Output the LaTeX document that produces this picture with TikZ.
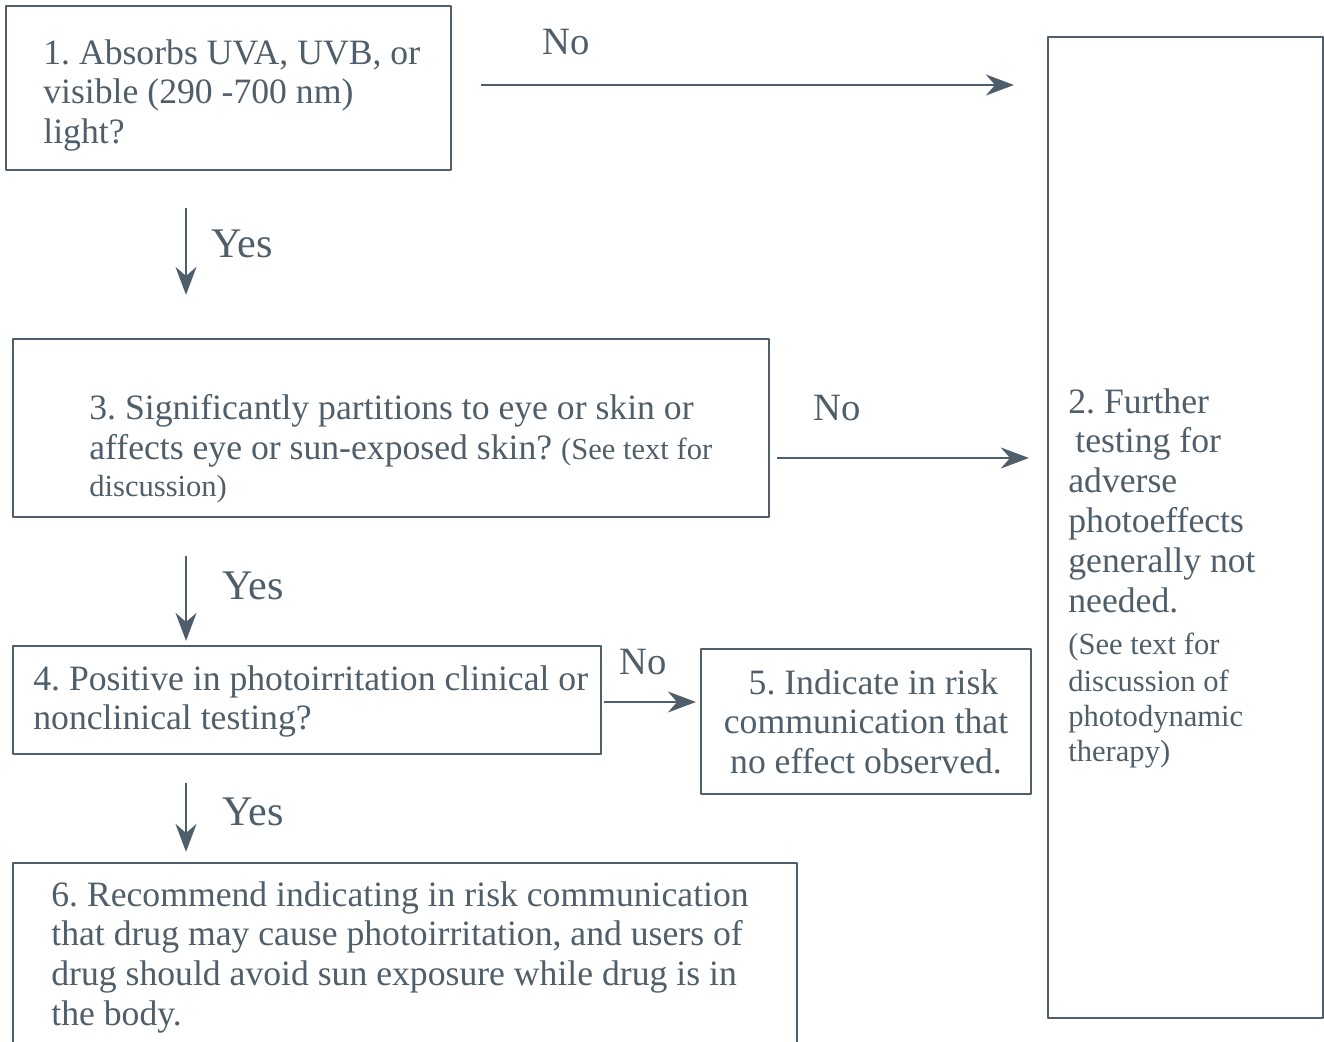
\documentclass[tikz,border=0pt]{standalone}
\usepackage{fontspec}
\setmainfont{Liberation Serif}
\usetikzlibrary{arrows.meta}
\frenchspacing
\definecolor{ink}{HTML}{4E5E6A}
\newcommand\bodytxt{\fontsize{20.3pt}{22.7pt}\selectfont}
\newcommand\smalltxt{\fontsize{17.4pt}{19.8pt}\selectfont}
\newcommand\notxt{\fontsize{22pt}{26pt}\selectfont}
\newcommand\yestxt{\fontsize{24pt}{28pt}\selectfont}
\begin{document}
\begin{tikzpicture}[x=0.02cm, y=-0.02cm, line join=round,
    >={Stealth[length=0.56cm,width=0.42cm]},
    frame/.style={draw=ink, line width=1.3pt, inner sep=0pt},
    txt/.style={text=ink, inner sep=0pt, align=left, font=\bodytxt},
    arr/.style={->, draw=ink, line width=1.3pt},
    lab/.style={text=ink, inner sep=0pt}]
  \useasboundingbox (0,0) rectangle (1324,1041);
  % boxes
  \node[frame, minimum width=8.9cm, minimum height=3.28cm] (q1) at (228.5,88) {};
  \node[frame, minimum width=5.5cm, minimum height=19.62cm] (r2) at (1185.5,527.5) {};
  \node[frame, minimum width=15.12cm, minimum height=3.56cm] (q3) at (391,428) {};
  \node[frame, minimum width=11.76cm, minimum height=2.16cm] (q4) at (307,700) {};
  \node[frame, minimum width=6.6cm, minimum height=2.9cm] (r5) at (866,721.5) {};
  \node[frame, minimum width=15.68cm, minimum height=3.7cm] (r6) at (405,955.5) {};
  % box texts
  \node[txt, anchor=north west] (t1) at (43,39)
    {1. Absorbs UVA, UVB, or\\ visible (290 -700 nm)\\ light?};
  \node[txt, anchor=north west] (t2) at (1068,388)
    {2. Further\\ \hspace*{0.14cm}testing for\\ adverse\\ photoeffects\\ generally not\\ needed.\\[0.04cm]
     \smalltxt (See text for\\[-0.06cm] \smalltxt discussion of\\[-0.1cm] \smalltxt photodynamic\\[-0.1cm] \smalltxt therapy)};
  \node[txt, anchor=north west] (t3) at (89,394)
    {3. Significantly partitions to eye or skin or\\ affects eye or sun-exposed skin? {\smalltxt (See text for}\\[-0.06cm] \smalltxt discussion)};
  \node[txt, anchor=north west] (t4) at (33,665)
    {4. Positive in photoirritation clinical or\\ nonclinical testing?};
  \node[txt, align=center, anchor=north] (t5) at (866,669)
    {\hspace*{0.3cm}5. Indicate in risk\\ communication that\\ no effect observed.};
  \node[txt, anchor=north west] (t6) at (51,881)
    {6. Recommend indicating in risk communication\\ that drug may cause photoirritation, and users of\\ drug should avoid sun exposure while drug is in\\ the body.};
  % arrows
  \draw[arr, shorten <=0.58cm, shorten >=0.66cm] ([yshift=0.06cm]q1.east) -- ([yshift=0.06cm]q1.east -| r2.west);
  \draw[arr, shorten <=0.74cm, shorten >=0.86cm] ([xshift=-0.85cm]q1.south) -- ([xshift=-0.85cm]q1.south |- q3.north);
  \draw[arr, shorten <=0.14cm, shorten >=0.36cm] ([yshift=-0.6cm]q3.east) -- ([yshift=-0.6cm]q3.east -| r2.west);
  \draw[arr, shorten <=0.76cm, shorten >=0.08cm] ([xshift=-4.1cm]q3.south) -- ([xshift=-4.1cm]q3.south |- q4.north);
  \draw[arr, shorten <=0.04cm, shorten >=0.08cm] ([yshift=-0.04cm]q4.east) -- ([yshift=-0.04cm]q4.east -| r5.west);
  \draw[arr, shorten <=0.56cm, shorten >=0.2cm] ([xshift=-2.42cm]q4.south) -- ([xshift=-2.42cm]q4.south |- r6.north);
  % labels
  \node[lab, font=\notxt] (no1) at (566,42) {No};
  \node[lab, font=\yestxt] (yes1) at (242,244) {Yes};
  \node[lab, font=\notxt] (no2) at (837,408) {No};
  \node[lab, font=\yestxt] (yes2) at (253,586) {Yes};
  \node[lab, font=\notxt] (no3) at (643,662) {No};
  \node[lab, font=\yestxt] (yes3) at (253,812) {Yes};
\end{tikzpicture}
\end{document}
